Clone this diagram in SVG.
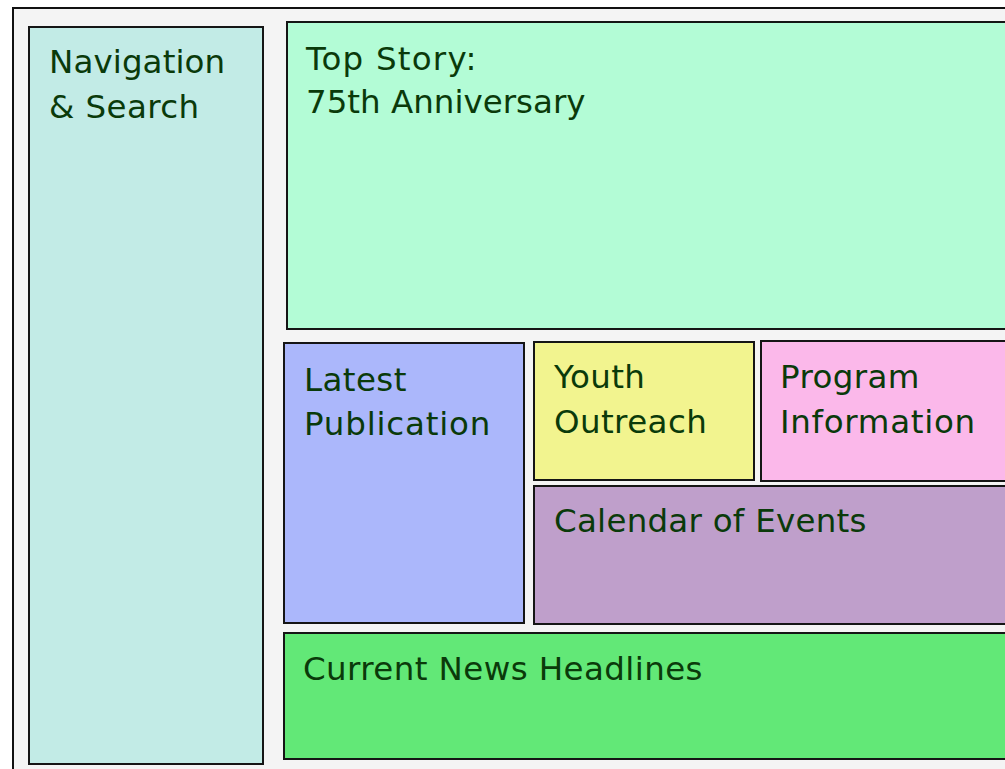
<svg xmlns="http://www.w3.org/2000/svg" width="1005" height="769" viewBox="0 0 1005 769">
<style>
.box{stroke:#151515;stroke-width:2}
.t{font-family:"DejaVu Sans",sans-serif;font-size:32.5px;fill:#0a3a0a;letter-spacing:0.4px}
</style>
<rect width="1005" height="769" fill="#ffffff"/>
<rect x="13" y="8" width="1010" height="780" fill="#f4f4f4" stroke="#111" stroke-width="2"/>
<g id="nav">
<rect class="box" x="29" y="27" width="234" height="737" fill="#c2ebe6"/>
<text class="t" x="49" y="73" style="letter-spacing:0.1px">Navigation</text>
<text class="t" x="49" y="118">&amp; Search</text>
</g>
<g id="top-story">
<rect class="box" x="287" y="22" width="740" height="307" fill="#b3fcd6"/>
<text class="t" x="306" y="70" style="letter-spacing:1.2px">Top Story:</text>
<text class="t" x="306" y="113" style="letter-spacing:0px">75th Anniversary</text>
</g>
<g id="latest">
<rect class="box" x="284" y="343" width="240" height="280" fill="#abb7fb"/>
<text class="t" x="304" y="391">Latest</text>
<text class="t" x="304" y="435" style="letter-spacing:0.8px">Publication</text>
</g>
<g id="youth">
<rect class="box" x="534" y="342" width="220" height="138" fill="#f2f48f"/>
<text class="t" x="554" y="388">Youth</text>
<text class="t" x="554" y="433">Outreach</text>
</g>
<g id="program">
<rect class="box" x="761" y="341" width="260" height="140" fill="#fbb8ea"/>
<text class="t" x="780" y="388">Program</text>
<text class="t" x="780" y="433" style="letter-spacing:0.7px">Information</text>
</g>
<g id="calendar">
<rect class="box" x="534" y="486" width="490" height="138" fill="#bf9fcb"/>
<text class="t" x="554" y="532" style="letter-spacing:0.25px">Calendar of Events</text>
</g>
<g id="news">
<rect class="box" x="284" y="633" width="740" height="126" fill="#62e877"/>
<text class="t" x="303" y="680">Current News Headlines</text>
</g>
<g id="connectors"></g>
</svg>
